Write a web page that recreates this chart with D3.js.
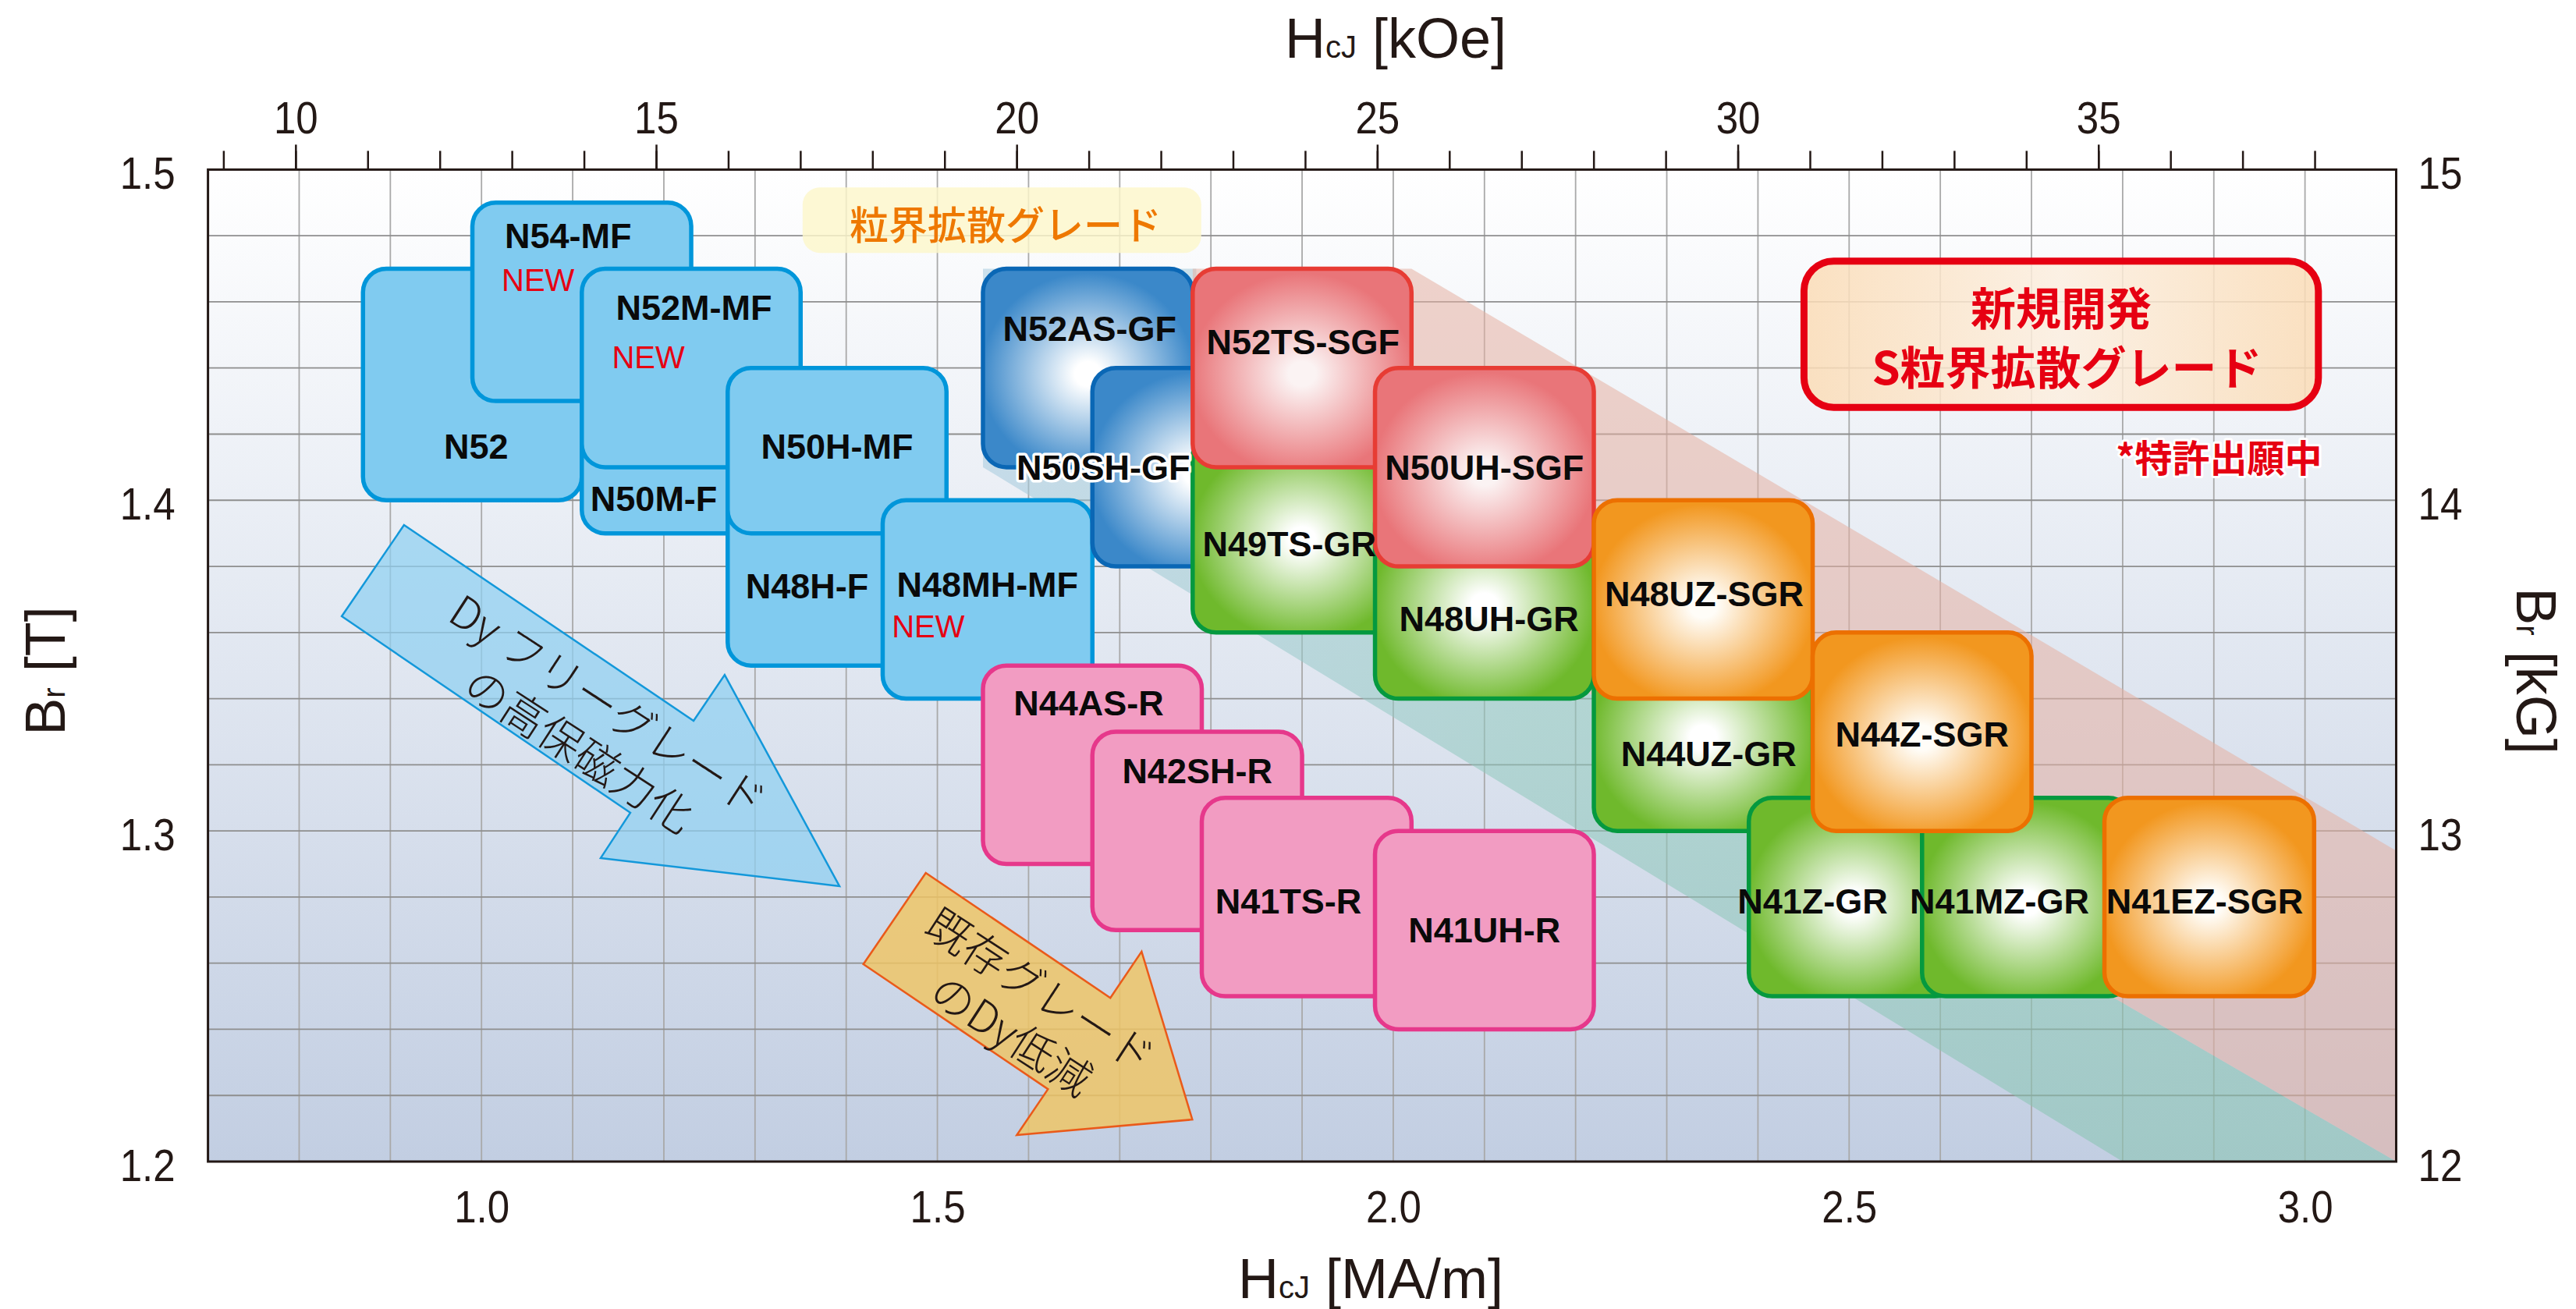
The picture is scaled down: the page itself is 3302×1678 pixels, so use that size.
<!DOCTYPE html>
<html><head><meta charset="utf-8">
<script src="https://cdn.jsdelivr.net/npm/d3@7"></script>
<style>html,body{margin:0;padding:0;background:#fff;} svg{display:block}</style>
</head><body>
<svg id="chart" width="3302" height="1678"></svg>
<script>
// ---------------- data ----------------
const grades    = ["N52","N54-MF","N50M-F","N52M-MF","N48H-F","N50H-MF","N48MH-MF",
                   "N44AS-R","N42SH-R","N41TS-R","N41UH-R",
                   "N52AS-GF","N50SH-GF","N49TS-GR","N52TS-SGF","N48UH-GR","N50UH-SGF",
                   "N44UZ-GR","N48UZ-SGR","N41Z-GR","N41MZ-GR","N44Z-SGR","N41EZ-SGR"];
const gradeType = ["MF","MF","MF","MF","MF","MF","MF",
                   "R","R","R","R",
                   "GF","GF","GR","SGF","GR","SGF",
                   "GR","SGR","GR","GR","SGR","SGR"];
const hcjMin = [0.87,0.99,1.11,1.11,1.27,1.27,1.44, 1.55,1.67,1.79,1.98, 1.55,1.67,1.78,1.78,1.98,1.98, 2.22,2.22,2.39,2.58,2.46,2.78];
const hcjMax = [1.11,1.23,1.35,1.35,1.51,1.51,1.67, 1.79,1.90,2.02,2.22, 1.78,1.90,2.02,2.02,2.22,2.22, 2.46,2.46,2.62,2.81,2.70,3.01];
const brMin  = [1.40,1.43,1.39,1.41,1.35,1.39,1.34, 1.29,1.27,1.25,1.24, 1.41,1.38,1.36,1.41,1.34,1.38, 1.30,1.34,1.25,1.25,1.30,1.25];
const brMax  = [1.47,1.49,1.45,1.47,1.41,1.44,1.40, 1.35,1.33,1.31,1.30, 1.47,1.44,1.42,1.47,1.40,1.44, 1.36,1.40,1.31,1.31,1.36,1.31];
const newGrades = ["N54-MF","N52M-MF","N48MH-MF"];

const xTicksMA  = [1.0,1.5,2.0,2.5,3.0];
const yTicksT   = [1.2,1.3,1.4,1.5];
const kOeTicks  = [10,15,20,25,30,35];
const kOeMinor  = d3.range(9,39);
const kGTicks   = [12,13,14,15];

const groupLabel  = "粒界拡散グレード";
const newDevLines = ["新規開発","S粒界拡散グレード"];
const patentNote  = "*特許出願中";
const dyArrowText = ["Dy フリーグレード","の高保磁力化"];
const exArrowText = ["既存グレード","のDy低減"];

// ---------------- layout (positions in data units) ----------------
const P = {left:266.6, top:217.4, right:3071.5, bottom:1489};
const labelAt = {
 "N52":[0.994,1.4126], "N54-MF":[1.095,1.4763], "N52M-MF":[1.233,1.4546], "N50M-F":[1.189,1.3968],
 "N50H-MF":[1.390,1.4126], "N48H-F":[1.357,1.3703], "N48MH-MF":[1.555,1.3707],
 "N44AS-R":[1.666,1.3350], "N42SH-R":[1.785,1.3144], "N41TS-R":[1.885,1.2750], "N41UH-R":[2.100,1.2662],
 "N52AS-GF":[1.667,1.4482], "N50SH-GF":[1.682,1.4062], "N49TS-GR":[1.886,1.3831], "N52TS-SGF":[1.901,1.4442],
 "N48UH-GR":[2.105,1.3604], "N50UH-SGF":[2.100,1.4062], "N44UZ-GR":[2.346,1.3196], "N48UZ-SGR":[2.341,1.3680],
 "N41Z-GR":[2.460,1.2750], "N41MZ-GR":[2.665,1.2750], "N44Z-SGR":[2.580,1.3255], "N41EZ-SGR":[2.890,1.2750]
};
const newAt = {"N54-MF":[1.062,1.4633], "N52M-MF":[1.183,1.4399], "N48MH-MF":[1.490,1.3585]};
const dyArrow = [[0.915,1.3925],[1.2326,1.3333],[1.2667,1.3472],[1.3926,1.2833],[1.1307,1.2918],[1.1632,1.3055],[0.8467,1.3649]];
const exArrow = [[1.4873,1.2873],[1.6897,1.2495],[1.7240,1.2635],[1.7796,1.2127],[1.5871,1.2080],[1.6213,1.2219],[1.4188,1.2597]];
const pinkBand = [[1.78,1.47],[2.02,1.47],[3.1,1.294],[3.1,1.2],[1.784,1.4105]];
const tealBand = [[1.55,1.41],[1.55,1.47],[1.784,1.47],[1.784,1.4105],[3.1,1.2],[2.80,1.2]];

const styles = {
  MF:  {fill:"#80cbf0", stroke:"#0096da"},
  R:   {fill:"#f29cc2", stroke:"#e6388b"},
  GF:  {c0:"#ffffff", c1:"#3b88c9", stroke:"#0a67b5"},
  SGF: {c0:"#fbf3f3", c1:"#e97579", stroke:"#e73c34"},
  GR:  {c0:"#ffffff", c1:"#6fb92c", stroke:"#05993f"},
  SGR: {c0:"#fffdf8", c1:"#f2971f", stroke:"#ec7000"}
};

// ---------------- scales ----------------
const x  = d3.scaleLinear().domain([0.7,3.1]).range([P.left,P.right]);
const y  = d3.scaleLinear().domain([1.2,1.5]).range([P.bottom,P.top]);
const xk = d3.scaleLinear().domain([8.786,39.13]).range([P.left,P.right]);
const yk = d3.scaleLinear().domain([12,15]).range([P.bottom,P.top]);

const svg = d3.select("#chart");
const defs = svg.append("defs");
const LAT = "'Liberation Sans', Arial, Helvetica, sans-serif";
const JP  = "'Noto Sans CJK JP', 'Noto Sans', sans-serif";

// background gradient
const bg = defs.append("linearGradient").attr("id","bgGrad").attr("x1",0).attr("y1",0).attr("x2",0).attr("y2",1);
bg.append("stop").attr("offset",0).attr("stop-color","#ffffff");
bg.append("stop").attr("offset",1).attr("stop-color","#c2cee2");

// radial gradients
Object.entries(styles).forEach(([k,s])=>{
  if(!s.c0) return;
  const g = defs.append("radialGradient").attr("id","rg"+k).attr("cx",0.5).attr("cy",0.53).attr("r",0.62);
  g.append("stop").attr("offset",0).attr("stop-color",s.c0);
  g.append("stop").attr("offset",0.1).attr("stop-color",s.c0);
  g.append("stop").attr("offset",0.82).attr("stop-color",s.c1);
  g.append("stop").attr("offset",1).attr("stop-color",s.c1);
});
// teal band gradient
const tg = defs.append("linearGradient").attr("id","tealGrad").attr("gradientUnits","userSpaceOnUse")
  .attr("x1",x(1.55)).attr("y1",y(1.41)).attr("x2",x(2.8)).attr("y2",y(1.2));
tg.append("stop").attr("offset",0).attr("stop-color","#a5cade");
tg.append("stop").attr("offset",0.45).attr("stop-color","#8fc8bc");
tg.append("stop").attr("offset",1).attr("stop-color","#86c4b0");
// new-dev box gradient
const ng = defs.append("linearGradient").attr("id","newGrad").attr("x1",0).attr("x2",1).attr("y1",0).attr("y2",0);
ng.append("stop").attr("offset",0).attr("stop-color","#fbdcb6");
ng.append("stop").attr("offset",0.5).attr("stop-color","#fcefe0");
ng.append("stop").attr("offset",1).attr("stop-color","#fbdcb6");

// plot background
svg.append("rect").attr("x",P.left).attr("y",P.top).attr("width",P.right-P.left).attr("height",P.bottom-P.top)
  .attr("fill","url(#bgGrad)");

// grid
const grid = svg.append("g");
grid.selectAll("line.v").data(d3.range(8,31).map(d=>d/10)).join("line")
  .attr("x1",d=>x(d)).attr("x2",d=>x(d)).attr("y1",P.top).attr("y2",P.bottom)
  .attr("stroke","#a9a9a9").attr("stroke-width",1.8);
grid.selectAll("line.h").data(d3.range(61,75).map(d=>d/50)).join("line")
  .attr("y1",d=>y(d)).attr("y2",d=>y(d)).attr("x1",P.left).attr("x2",P.right)
  .attr("stroke","#8e8e8e").attr("stroke-width",1.8);

const line = d3.line().x(d=>x(d[0])).y(d=>y(d[1]));

// bands
svg.append("path").attr("d",line(tealBand)+"Z").attr("fill","url(#tealGrad)").attr("fill-opacity",0.55);
svg.append("path").attr("d",line(pinkBand)+"Z").attr("fill","#e6b0a2").attr("fill-opacity",0.55);

// arrows
svg.append("path").attr("d",line(dyArrow)+"Z").attr("fill","#8fd0f1").attr("fill-opacity",0.72)
  .attr("stroke","#1398da").attr("stroke-width",2.5).attr("stroke-linejoin","miter");
svg.append("path").attr("d",line(exArrow)+"Z").attr("fill","#efc463").attr("fill-opacity",0.82)
  .attr("stroke","#ea5a1a").attr("stroke-width",2.5);

function arrowText(lines, cx, cy, ang){
  const g = svg.append("g").attr("transform",`translate(${x(cx)},${y(cy)}) rotate(${ang})`);
  g.selectAll("text").data(lines).join("text")
    .attr("x",0).attr("y",(d,i)=> (i===0?-34:34))
    .attr("dominant-baseline","central").attr("text-anchor","middle")
    .attr("font-family",JP).attr("font-weight",300).attr("font-size",56).attr("fill","#231815")
    .text(d=>d);
}
arrowText(dyArrowText, 1.1248, 1.3319, 33);
arrowText(exArrowText, 1.5990, 1.2458, 33);

// group label box
svg.append("rect").attr("x",x(1.3522)).attr("y",y(1.4946)).attr("width",x(1.7894)-x(1.3522)).attr("height",y(1.4748)-y(1.4946))
  .attr("rx",22).attr("fill","#fcf7cb").attr("fill-opacity",0.82);
svg.append("text").attr("x",x(1.5748)).attr("y",y(1.4789)).attr("text-anchor","middle")
  .attr("font-family",JP).attr("font-weight",500).attr("font-size",50).attr("fill","#ee7800").text(groupLabel);

// new development box
svg.append("rect").attr("x",x(2.4505)).attr("y",y(1.4723)).attr("width",x(3.0147)-x(2.4505)).attr("height",y(1.4281)-y(1.4723))
  .attr("rx",38).attr("fill","url(#newGrad)").attr("fill-opacity",0.85).attr("stroke","#e60012").attr("stroke-width",9);
svg.append("text").attr("x",x(2.7325)).attr("y",y(1.4529)).attr("text-anchor","middle")
  .attr("font-family",JP).attr("font-weight",700).attr("font-size",58).attr("fill","#e60012").text(newDevLines[0]);
svg.append("text").attr("x",x(2.7389)).attr("y",y(1.4350)).attr("text-anchor","middle")
  .attr("font-family",JP).attr("font-weight",700).attr("font-size",58).attr("fill","#e60012").text(newDevLines[1]);
svg.append("text").attr("x",x(3.0187)).attr("y",y(1.4086)).attr("text-anchor","end")
  .attr("font-family",JP).attr("font-weight",700).attr("font-size",48).attr("fill","#e60012")
  .attr("stroke","#ffffff").attr("stroke-width",6).attr("paint-order","stroke").attr("stroke-linejoin","round")
  .text(patentNote);

// grade boxes
const boxes = grades.map((g,i)=>({name:g, type:gradeType[i], x0:hcjMin[i], x1:hcjMax[i], y0:brMin[i], y1:brMax[i]}));
svg.append("g").selectAll("rect").data(boxes).join("rect")
  .attr("x",d=>x(d.x0)).attr("y",d=>y(d.y1))
  .attr("width",d=>x(d.x1)-x(d.x0)).attr("height",d=>y(d.y0)-y(d.y1))
  .attr("rx",30).attr("ry",30)
  .attr("fill",d=>styles[d.type].c0 ? `url(#rg${d.type})` : styles[d.type].fill)
  .attr("stroke",d=>styles[d.type].stroke).attr("stroke-width",5.5);

// grade labels
svg.append("g").selectAll("text").data(boxes).join("text")
  .attr("x",d=>x(labelAt[d.name][0])).attr("y",d=>y(labelAt[d.name][1]))
  .attr("text-anchor","middle").attr("font-family",LAT).attr("font-weight",700).attr("font-size",45)
  .attr("fill","#0a0a0a")
  .attr("stroke",d=>d.name==="N50SH-GF"?"#ffffff":"none").attr("stroke-width",7)
  .attr("paint-order","stroke").attr("stroke-linejoin","round")
  .text(d=>d.name);
svg.append("g").selectAll("text").data(newGrades).join("text")
  .attr("x",d=>x(newAt[d][0])).attr("y",d=>y(newAt[d][1]))
  .attr("text-anchor","middle").attr("font-family",LAT).attr("font-size",40).attr("fill","#e60012")
  .text("NEW");

// frame
svg.append("rect").attr("x",P.left).attr("y",P.top).attr("width",P.right-P.left).attr("height",P.bottom-P.top)
  .attr("fill","none").attr("stroke","#231815").attr("stroke-width",3);

// axes
const SX = 0.88;
function condense(sel){
  sel.each(function(){
    const t = d3.select(this);
    const xv = +t.attr("x") || 0;
    t.attr("x", xv/SX).attr("transform",`scale(${SX},1)`);
  });
}
const axFont = g => g.selectAll("text").attr("font-family",LAT).attr("font-size",58).attr("fill","#231815");

// top minor ticks
svg.append("g").attr("transform",`translate(0,${P.top})`)
  .call(d3.axisTop(xk).tickValues(kOeMinor).tickSize(24).tickFormat(""))
  .call(g=>g.select(".domain").remove())
  .call(g=>g.selectAll("line").attr("stroke","#231815").attr("stroke-width",2.5));
// top major ticks + labels
svg.append("g").attr("transform",`translate(0,${P.top})`)
  .call(d3.axisTop(xk).tickValues(kOeTicks).tickSize(32).tickPadding(14).tickFormat(d3.format("d")))
  .call(g=>g.select(".domain").remove())
  .call(g=>g.selectAll("line").attr("stroke","#231815").attr("stroke-width",2.5))
  .call(axFont).call(g=>condense(g.selectAll("text")));

// bottom
svg.append("g").attr("transform",`translate(0,${P.bottom})`)
  .call(d3.axisBottom(x).tickValues(xTicksMA).tickSize(0).tickFormat(d3.format(".1f")))
  .call(g=>g.select(".domain").remove())
  .call(axFont)
  .call(g=>g.selectAll("text").attr("y",78).attr("dy",0))
  .call(g=>condense(g.selectAll("text")));
// left
svg.append("g").attr("transform",`translate(${P.left},0)`)
  .call(d3.axisLeft(y).tickValues(yTicksT).tickSize(0).tickFormat(d3.format(".1f")))
  .call(g=>g.select(".domain").remove())
  .call(axFont)
  .call(g=>g.selectAll("text").attr("x",-42).attr("dy",24))
  .call(g=>condense(g.selectAll("text")));
// right
svg.append("g").attr("transform",`translate(${P.right},0)`)
  .call(d3.axisRight(yk).tickValues(kGTicks).tickSize(0).tickFormat(d3.format("d")))
  .call(g=>g.select(".domain").remove())
  .call(axFont)
  .call(g=>g.selectAll("text").attr("x",28).attr("dy",24))
  .call(g=>condense(g.selectAll("text")));

// titles
function title(tx, ty, rot, anchor, parts){
  const t = svg.append("text").attr("transform",`translate(${tx},${ty}) rotate(${rot})`)
    .attr("text-anchor",anchor).attr("font-family",LAT).attr("font-size",72).attr("fill","#231815");
  parts.forEach(p=>t.append("tspan").attr("font-size",p[1]).text(p[0]));
}
title(1647, 74, 0, "start", [["H",72],["cJ",40],[" [kOe]",72]]);
title(1587, 1664, 0, "start", [["H",72],["cJ",40],[" [MA/m]",72]]);
title(83, 860, -90, "middle", [["B",72],["r",40],[" [T]",72]]);
title(3226, 860, 90, "middle", [["B",72],["r",40],[" [kG]",72]]);
</script>
</body></html>
